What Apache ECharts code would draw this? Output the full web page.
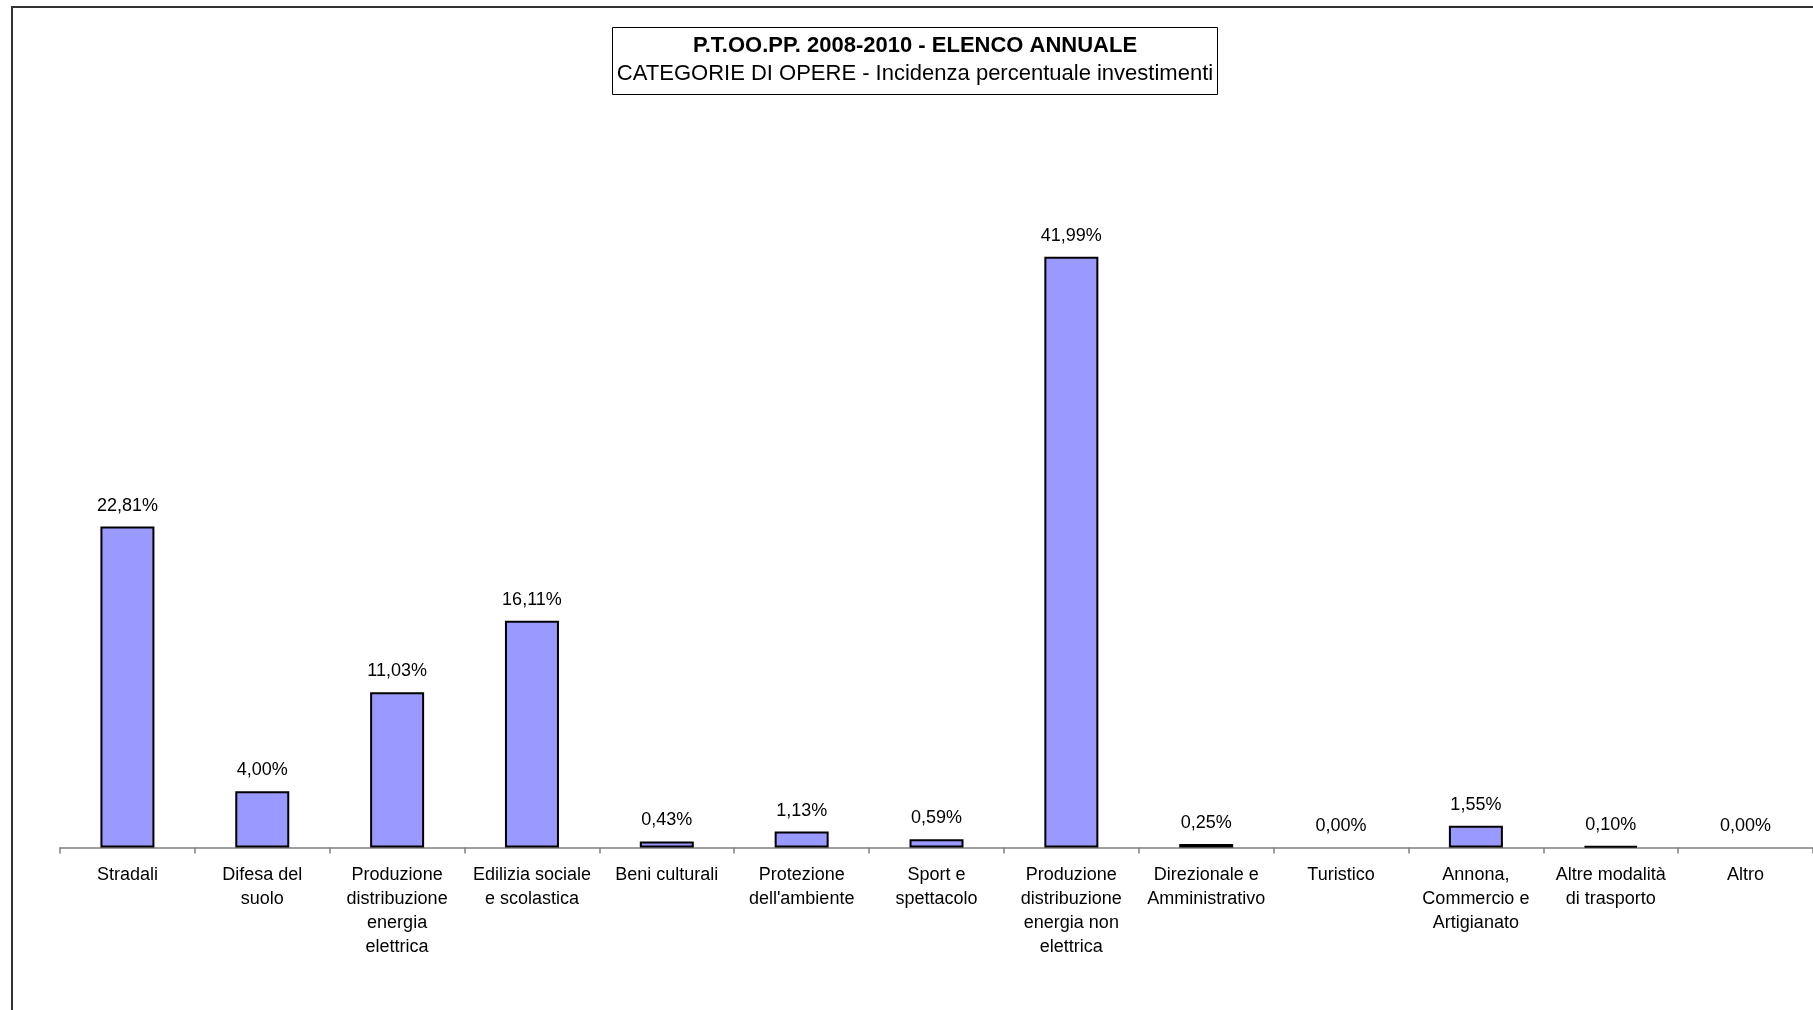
<!DOCTYPE html>
<html>
<head>
<meta charset="utf-8">
<script src="https://cdn.jsdelivr.net/npm/echarts@6/dist/echarts.min.js"></script>
<style>
html,body{margin:0;padding:0;background:#fff;}
#chart{width:1813px;height:1010px;}
</style>
</head>
<body>
<div id="chart"></div>
<script>
const titleMain = 'P.T.OO.PP. 2008-2010 - ELENCO ANNUALE';
const titleSub = 'CATEGORIE DI OPERE - Incidenza percentuale investimenti';
const categories = [
  'Stradali',
  'Difesa del\nsuolo',
  'Produzione\ndistribuzione\nenergia\nelettrica',
  'Edilizia sociale\ne scolastica',
  'Beni culturali',
  'Protezione\ndell\'ambiente',
  'Sport e\nspettacolo',
  'Produzione\ndistribuzione\nenergia non\nelettrica',
  'Direzionale e\nAmministrativo',
  'Turistico',
  'Annona,\nCommercio e\nArtigianato',
  'Altre modalità\ndi trasporto',
  'Altro'
];
const values = [22.81, 4.00, 11.03, 16.11, 0.43, 1.13, 0.59, 41.99, 0.25, 0.00, 1.55, 0.10, 0.00];

const chart = echarts.init(document.getElementById('chart'));
const font = '"Liberation Sans", Arial, sans-serif';
chart.setOption({
  backgroundColor: '#fff',
  animation: false,
  graphic: [
    { type: 'rect', shape: { x: 12, y: 7, width: 1830, height: 1030 }, style: { fill: 'none', stroke: '#333', lineWidth: 2 }, silent: true },
    { type: 'rect', shape: { x: 612.5, y: 27.5, width: 605, height: 67 }, style: { fill: '#fff', stroke: '#000', lineWidth: 1 }, silent: true },
    { type: 'text', x: 915, y: 46, style: { text: titleMain, font: 'bold 22px ' + font, fill: '#000', textAlign: 'center', textVerticalAlign: 'middle' } },
    { type: 'text', x: 915, y: 74, style: { text: titleSub, font: '22px ' + font, fill: '#000', textAlign: 'center', textVerticalAlign: 'middle' } }
  ],
  grid: { left: 60, top: 144, width: 1755, height: 703.5, containLabel: false },
  xAxis: {
    type: 'category',
    data: categories,
    axisLine: { lineStyle: { color: '#808080', width: 1.5 } },
    axisTick: { show: true, length: 6, lineStyle: { color: '#808080', width: 1.5 } },
    axisLabel: { interval: 0, color: '#000', fontFamily: font, fontSize: 18, lineHeight: 24, margin: 16 }
  },
  yAxis: { type: 'value', min: 0, max: 50, show: false, splitLine: { show: false } },
  series: [{
    type: 'bar',
    data: values.map(v => ({ value: v, itemStyle: v === 0 ? { borderWidth: 0 } : {} })),
    barWidth: 54,
    itemStyle: { color: '#9999FF', borderColor: '#000', borderWidth: 2 },
    label: {
      show: true, position: 'top', distance: 12,
      color: '#000', fontFamily: font, fontSize: 18,
      formatter: p => p.value.toFixed(2).replace('.', ',') + '%'
    }
  }]
});
</script>
</body>
</html>
